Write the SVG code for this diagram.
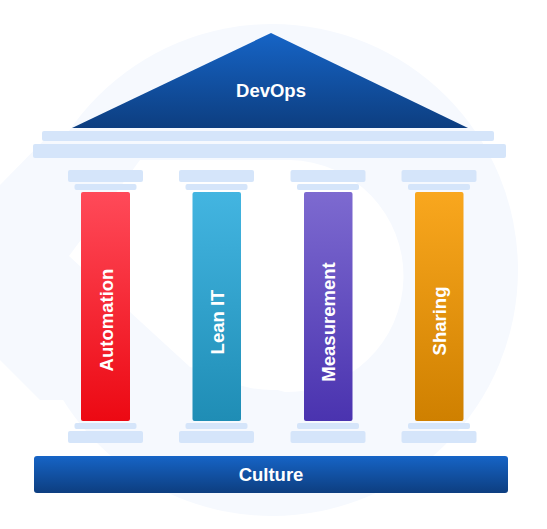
<svg xmlns="http://www.w3.org/2000/svg" width="547" height="529" viewBox="0 0 547 529">
<defs>
<style>
.band{fill:#D5E5FA}
.lbl{font-family:"Liberation Sans",Arial,sans-serif;font-weight:bold;font-size:18.5px;fill:#ffffff;text-anchor:middle}
.bg{fill:#F6F9FE}
</style>
<linearGradient id="gBlue" x1="0" y1="0" x2="0" y2="1"><stop offset="0" stop-color="#1664C6"/><stop offset="1" stop-color="#0D3E80"/></linearGradient>
<linearGradient id="gRed" x1="0" y1="0" x2="0" y2="1"><stop offset="0" stop-color="#FF4A59"/><stop offset="1" stop-color="#EC0913"/></linearGradient>
<linearGradient id="gTeal" x1="0" y1="0" x2="0" y2="1"><stop offset="0" stop-color="#43B5E1"/><stop offset="1" stop-color="#1F8DB5"/></linearGradient>
<linearGradient id="gPurple" x1="0" y1="0" x2="0" y2="1"><stop offset="0" stop-color="#7D6AD0"/><stop offset="1" stop-color="#4A33AF"/></linearGradient>
<linearGradient id="gOrange" x1="0" y1="0" x2="0" y2="1"><stop offset="0" stop-color="#F9A71E"/><stop offset="1" stop-color="#CF8000"/></linearGradient>
<g id="pillarFrame">
<rect class="band" x="-37.5" y="170" width="75" height="12" rx="2"/>
<rect class="band" x="-31" y="184" width="62" height="6" rx="2"/>
<rect class="band" x="-31" y="423" width="62" height="6" rx="2"/>
<rect class="band" x="-37.5" y="431" width="75" height="12" rx="2"/>
</g>
</defs>
<rect width="547" height="529" fill="#ffffff"/>
<g id="background">
<path class="bg" d="M48 136 L-5 190 L-5 355 L40 400 L120 400 L120 136 Z"/>
<circle class="bg" cx="272" cy="270" r="246"/>
<path d="M69 256 L140 160 L290 160 A112 112 0 0 1 285 392 L190 367 Z" fill="#ffffff"/>
<circle cx="272" cy="280" r="110" fill="#ffffff"/>
</g>
<g id="roof">
<polygon points="271,33 468,128 72,128" fill="url(#gBlue)"/>
<text class="lbl" x="271" y="97">DevOps</text>
<rect class="band" x="42" y="131" width="452" height="10" rx="2"/>
<rect class="band" x="33" y="144" width="473" height="14" rx="2"/>
</g>
<g id="automation">
<use href="#pillarFrame" x="105.5"/>
<rect x="81" y="192" width="49" height="229" rx="2" fill="url(#gRed)"/>
<text class="lbl" transform="translate(106 320) rotate(-90)" y="6.5">Automation</text>
</g>
<g id="lean-it">
<use href="#pillarFrame" x="216.5"/>
<rect x="192.5" y="192" width="48.5" height="229" rx="2" fill="url(#gTeal)"/>
<text class="lbl" transform="translate(217 322) rotate(-90)" y="6.5">Lean IT</text>
</g>
<g id="measurement">
<use href="#pillarFrame" x="328"/>
<rect x="304" y="192" width="48.5" height="229" rx="2" fill="url(#gPurple)"/>
<text class="lbl" transform="translate(328.5 322) rotate(-90)" y="6.5">Measurement</text>
</g>
<g id="sharing">
<use href="#pillarFrame" x="439"/>
<rect x="415" y="192" width="48.5" height="229" rx="2" fill="url(#gOrange)"/>
<text class="lbl" transform="translate(439.5 321) rotate(-90)" y="6.5">Sharing</text>
</g>
<g id="culture">
<rect x="34" y="456" width="474" height="37" rx="3" fill="url(#gBlue)"/>
<text class="lbl" x="271" y="481">Culture</text>
</g>
<g id="connectors"></g>
</svg>
